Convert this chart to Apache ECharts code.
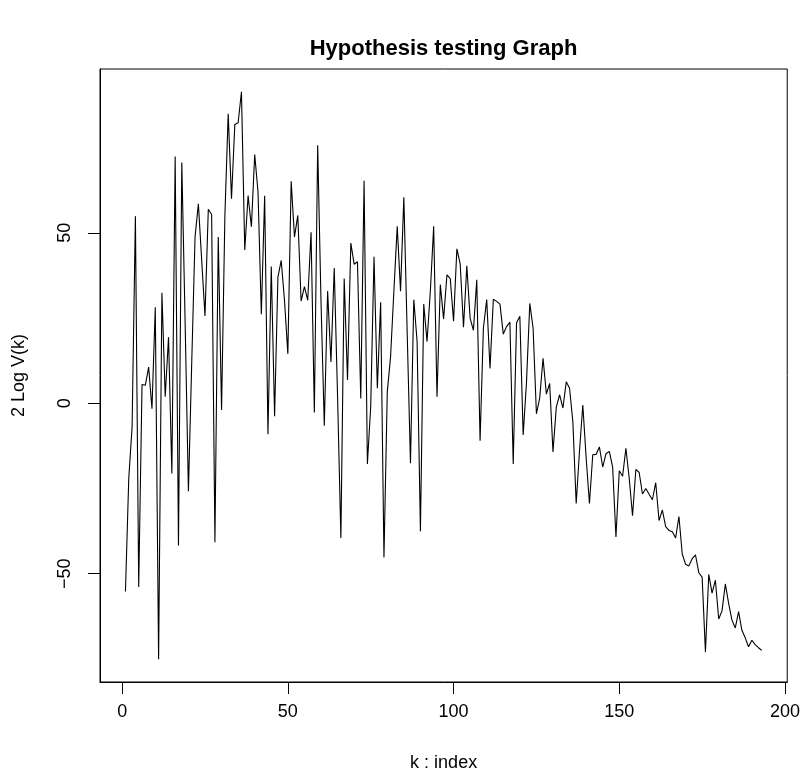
<!DOCTYPE html>
<html>
<head>
<meta charset="utf-8">
<script src="https://cdn.jsdelivr.net/npm/echarts@6/dist/echarts.min.js"></script>
<style>html,body{margin:0;padding:0;background:#fff;}#c{width:803px;height:777px;}</style>
</head>
<body>
<div id="c"></div>
<script>
var titleText = 'Hypothesis testing Graph';
var xName = 'k : index';
var yName = '2 Log V(k)';
var xTicks = [0, 50, 100, 150, 200];
var yTicks = [-50, 0, 50];
var values = [
 -55.2, -22, -7, 54.9, -53.9, 5.5, 5.3, 10.6, -1.6, 28.2,
 -75.1, 32.4, 1.9, 19.4, -20.6, 72.4, -41.7, 70.6, 24, -25.8,
 12, 48.8, 58.5, 42, 25.6, 56.9, 55.4, -40.8, 48.8, -2.0,
 55, 84.9, 60.0, 81.8, 82.3, 91.4, 45.0, 60.9, 51.8, 73.0,
 62.0, 26.1, 60.9, -9.1, 40.1, -3.8, 37.0, 41.9, 30, 14.5,
 65.1, 48.8, 55.1, 30.0, 34.2, 30.2, 50.2, -2.7, 75.7, 30,
 -6.6, 32.9, 12.1, 39.7, 2, -39.5, 36.6, 6.8, 47.0, 40.8,
 41.5, 1.4, 65.3, -17.8, -1, 43.0, 4.4, 29.6, -45.2, 3.3,
 13.7, 33, 51.9, 32.9, 60.4, 21, -17.6, 30.4, 18.1, -37.5,
 29.1, 18.1, 33, 51.9, 1.9, 34.8, 24.7, 37.7, 36.6, 24.1,
 45.3, 40.9, 22.3, 40.3, 24.9, 21.4, 36.2, -11.0, 22.0, 30.4,
 10.2, 30.5, 29.9, 29.1, 20.3, 22.5, 23.8, -17.8, 23.6, 25.5,
 -9.3, 6, 29.3, 22.0, -3.1, 1.6, 13.2, 2.7, 5.8, -14.3,
 -1.1, 2.5, -1.4, 6.3, 4.4, -5.5, -29.4, -14, -0.5, -15.9,
 -29.4, -15.1, -15.0, -12.8, -18.7, -14.8, -14.1, -18.7, -39.2, -19.8,
 -21.4, -13.2, -22, -33, -19.4, -20.3, -26.6, -25.0, -26.7, -28.3,
 -23.3, -34.4, -31.3, -36.2, -37.3, -37.7, -39.5, -33.2, -44.2, -47.2,
 -47.7, -45.6, -44.5, -49.7, -51.0, -73.0, -50.2, -55.7, -51.9, -63.3,
 -60.9, -53.0, -58.7, -63.6, -65.9, -61.1, -66.6, -68.8, -71.4, -69.5,
 -70.8, -71.7, -72.5
];
var indices = values.map(function (v, i) { return i + 1; });

var n = values.length;
var xPad = (n - 1) * 0.04;
var vMin = Math.min.apply(null, values), vMax = Math.max.apply(null, values);
var yPad = (vMax - vMin) * 0.04;

function minusFmt(v) { return String(v).replace('-', '\u2212'); }

var font = 'Liberation Sans, Arial, Helvetica, sans-serif';
var chart = echarts.init(document.getElementById('c'), null, {renderer: 'canvas'});
chart.setOption({
  animation: false,
  backgroundColor: '#fff',
  title: {
    text: titleText,
    left: 443.5, top: 38, textAlign: 'center', padding: 0,
    textStyle: {fontSize: 22, fontWeight: 'bold', color: '#000', fontFamily: font}
  },
  grid: {
    left: 100, right: 15, top: 69, bottom: 92,
    show: true, borderColor: '#000', borderWidth: 1, backgroundColor: 'transparent'
  },
  xAxis: {
    type: 'value',
    min: 1 - xPad, max: n + xPad,
    name: xName, nameLocation: 'middle', nameGap: 72,
    nameTextStyle: {fontSize: 18, color: '#000', fontFamily: font},
    axisLine: {show: true, onZero: false, lineStyle: {color: '#000', width: 1}},
    axisTick: {show: true, length: 12, inside: false, customValues: xTicks, lineStyle: {color: '#000', width: 1}},
    axisLabel: {show: true, customValues: xTicks, margin: 21, fontSize: 18, color: '#000', fontFamily: font},
    splitLine: {show: false}
  },
  yAxis: {
    type: 'value',
    min: vMin - yPad, max: vMax + yPad,
    name: yName, nameLocation: 'middle', nameGap: 72, nameRotate: 90,
    nameTextStyle: {fontSize: 18, color: '#000', fontFamily: font},
    axisLine: {show: true, onZero: false, lineStyle: {color: '#000', width: 1}},
    axisTick: {show: true, length: 12, inside: false, customValues: yTicks, lineStyle: {color: '#000', width: 1}},
    axisLabel: {show: true, customValues: yTicks, rotate: 90, margin: 26, fontSize: 18, color: '#000', fontFamily: font, formatter: minusFmt},
    splitLine: {show: false}
  },
  series: [{
    type: 'line',
    data: indices.map(function (k, i) { return [k, values[i]]; }),
    showSymbol: false, symbol: 'none',
    lineStyle: {color: '#000', width: 1.1},
    silent: true
  }]
});
</script>
</body>
</html>
